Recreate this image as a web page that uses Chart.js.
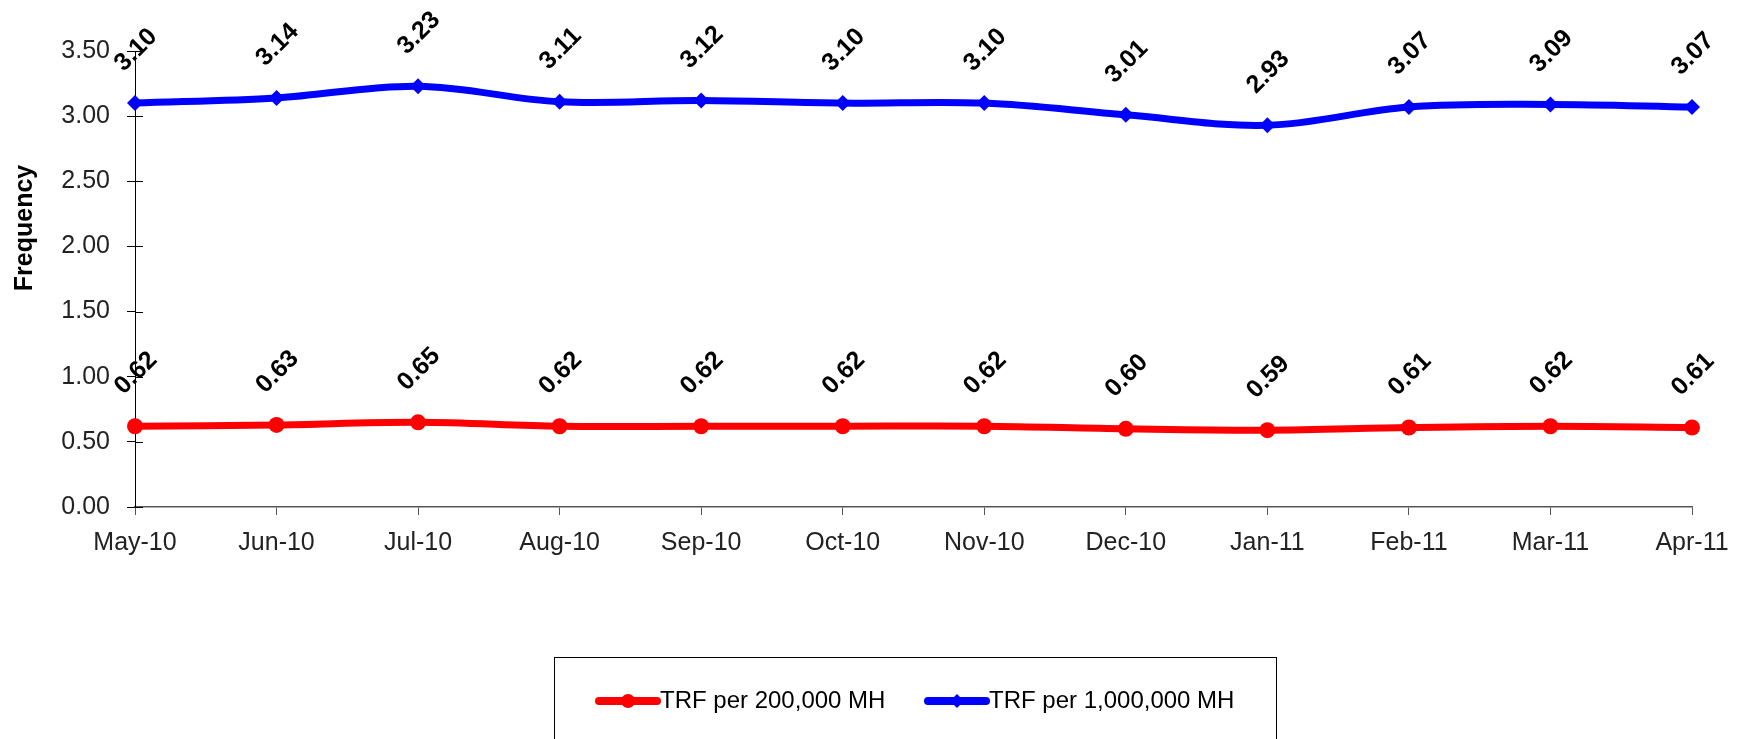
<!DOCTYPE html>
<html>
<head>
<meta charset="utf-8">
<script src="https://cdn.jsdelivr.net/npm/chart.js@4/dist/chart.umd.min.js"></script>
<style>
  html, body { margin: 0; padding: 0; background: #fff; }
  #wrap { width: 1748px; height: 739px; position: relative; }
</style>
</head>
<body>
<div id="wrap"><canvas id="c" width="1748" height="739"></canvas></div>
<script>
const categories = ["May-10","Jun-10","Jul-10","Aug-10","Sep-10","Oct-10","Nov-10","Dec-10","Jan-11","Feb-11","Mar-11","Apr-11"];
const trf200k = [0.62,0.63,0.65,0.62,0.62,0.62,0.62,0.60,0.59,0.61,0.62,0.61];
const trf1m = [3.10,3.14,3.23,3.11,3.12,3.10,3.10,3.01,2.93,3.07,3.09,3.07];
const seriesNames = ["TRF per 200,000 MH", "TRF per 1,000,000 MH"];
const yTicks = [0, 0.5, 1, 1.5, 2, 2.5, 3, 3.5];
const yTitle = "Frequency";

const FONT = "'Liberation Sans', Arial, sans-serif";

const dataLabels = {
  id: 'dataLabels',
  afterDatasetsDraw(chart) {
    const ctx = chart.ctx;
    ctx.save();
    ctx.font = "bold 25px " + FONT;
    ctx.fillStyle = '#000';
    ctx.textAlign = 'center';
    ctx.textBaseline = 'middle';
    chart.data.datasets.forEach((ds, i) => {
      const meta = chart.getDatasetMeta(i);
      meta.data.forEach((pt, j) => {
        ctx.save();
        ctx.translate(pt.x + 1, pt.y - 53);
        ctx.rotate(-Math.PI / 4);
        ctx.fillText(ds.data[j].toFixed(2), 0, 0);
        ctx.restore();
      });
    });
    ctx.restore();
  }
};

const axisExtras = {
  id: 'axisExtras',
  afterDraw(chart) {
    const ctx = chart.ctx;
    const y = chart.scales.y;
    ctx.save();
    ctx.strokeStyle = '#000';
    ctx.lineWidth = 1;
    y.ticks.forEach(t => {
      const py = Math.round(y.getPixelForValue(t.value)) + 0.5;
      ctx.beginPath();
      ctx.moveTo(y.right, py);
      ctx.lineTo(y.right + 8, py);
      ctx.stroke();
    });
    // y axis title
    ctx.translate(25, 228);
    ctx.rotate(-Math.PI / 2);
    ctx.font = "bold 25px " + FONT;
    ctx.fillStyle = '#000';
    ctx.textAlign = 'center';
    ctx.textBaseline = 'middle';
    ctx.fillText(yTitle, 0, 0);
    ctx.restore();
  }
};

const boxLegend = {
  id: 'boxLegend',
  afterDraw(chart) {
    const ctx = chart.ctx;
    ctx.save();
    ctx.strokeStyle = '#000';
    ctx.lineWidth = 1;
    ctx.strokeRect(554.5, 657.5, 722, 120);
    ctx.font = "24px " + FONT;
    ctx.textBaseline = 'middle';
    ctx.textAlign = 'left';
    const cy = 701;
    const starts = [599, 928];
    chart.data.datasets.forEach((ds, i) => {
      const x0 = starts[i];
      ctx.strokeStyle = ds.borderColor;
      ctx.lineWidth = 8;
      ctx.lineCap = 'round';
      ctx.beginPath();
      ctx.moveTo(x0, cy);
      ctx.lineTo(x0 + 58, cy);
      ctx.stroke();
      ctx.fillStyle = ds.borderColor;
      ctx.beginPath();
      if (ds.pointStyle === 'circle') {
        ctx.arc(x0 + 29, cy, 7, 0, Math.PI * 2);
      } else {
        ctx.moveTo(x0 + 29, cy - 7); ctx.lineTo(x0 + 36, cy); ctx.lineTo(x0 + 29, cy + 7); ctx.lineTo(x0 + 22, cy);
        ctx.closePath();
      }
      ctx.fill();
      ctx.fillStyle = '#000';
      ctx.fillText(ds.label, x0 + 61, cy);
    });
    ctx.restore();
  }
};

new Chart(document.getElementById('c'), {
  type: 'line',
  data: {
    labels: categories,
    datasets: [
      {
        label: seriesNames[0],
        data: trf200k,
        borderColor: '#ff0000',
        backgroundColor: '#ff0000',
        borderWidth: 7,
        pointStyle: 'circle',
        pointRadius: 8,
        pointBorderWidth: 0,
        tension: 0.35
      },
      {
        label: seriesNames[1],
        data: trf1m,
        borderColor: '#0000ff',
        backgroundColor: '#0000ff',
        borderWidth: 7,
        pointStyle: 'rectRot',
        pointRadius: 8,
        pointBorderWidth: 0,
        tension: 0.35
      }
    ]
  },
  options: {
    responsive: false,
    animation: false,
    devicePixelRatio: 1,
    layout: { padding: { top: 51, right: 56, bottom: 172, left: 0 } },
    plugins: {
      legend: { display: false },
      tooltip: { enabled: false }
    },
    scales: {
      x: {
        offset: false,
        afterFit(scale) { scale.height = 60; },
        grid: { offset: false, drawOnChartArea: false, drawTicks: true, tickLength: 8, color: '#555' },
        border: { display: true, color: '#555', width: 1.5 },
        ticks: { color: '#222', font: { family: FONT, size: 25 }, padding: 13, maxRotation: 0, autoSkip: false }
      },
      y: {
        min: 0,
        max: 3.5,
        afterFit(scale) { scale.width = 135; },
        afterBuildTicks(scale) { scale.ticks = yTicks.map(v => ({ value: v })); },
        grid: { drawOnChartArea: false, drawTicks: true, tickLength: 8, color: '#000' },
        border: { display: true, color: '#000', width: 1 },
        ticks: {
          color: '#222',
          font: { family: FONT, size: 25 },
          padding: 17,
          callback: v => Number(v).toFixed(2)
        }
      }
    }
  },
  plugins: [dataLabels, axisExtras, boxLegend]
});
</script>
</body>
</html>
